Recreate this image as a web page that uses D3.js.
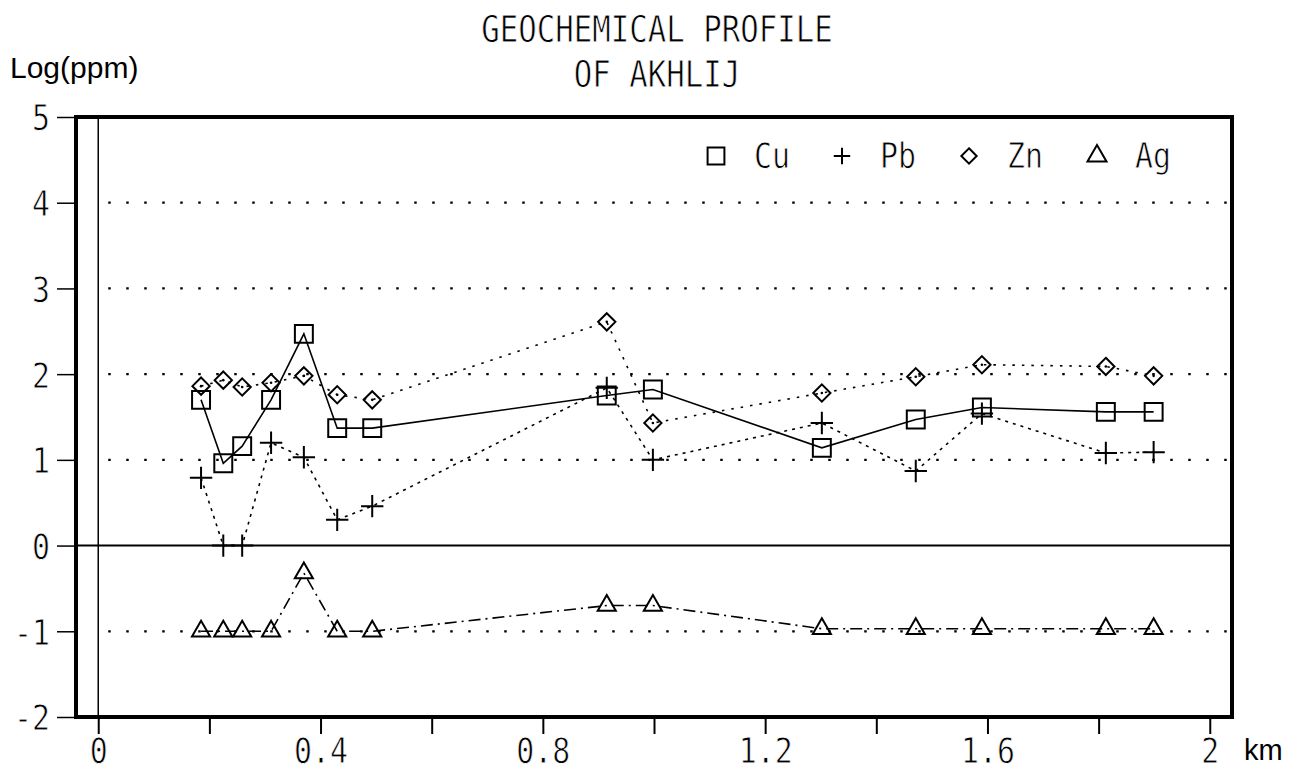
<!DOCTYPE html>
<html>
<head>
<meta charset="utf-8">
<script src="https://cdn.jsdelivr.net/npm/d3@7"></script>
<style>
  html, body { margin: 0; padding: 0; background: #fff; }
  svg { display: block; }
</style>
</head>
<body>
<div id="chart"></div>
<script>
// distance along the profile (km) and log(ppm) of each element
const distance = [0.185, 0.225, 0.259, 0.311, 0.370, 0.430, 0.493, 0.915, 0.998, 1.302, 1.471, 1.590, 1.813, 1.899];
const cu = [1.70, 0.96, 1.16, 1.70, 2.47, 1.37, 1.37, 1.75, 1.82, 1.14, 1.47, 1.61, 1.56, 1.56];
const pb = [0.79, 0.00, 0.00, 1.20, 1.03, 0.30, 0.46, 1.84, 1.00, 1.43, 0.87, 1.54, 1.08, 1.09];
const zn = [1.86, 1.93, 1.85, 1.90, 1.98, 1.76, 1.70, 2.61, 1.43, 1.78, 1.97, 2.11, 2.09, 1.98];
const ag = [-1.00, -1.00, -1.00, -1.00, -0.32, -1.00, -1.00, -0.70, -0.70, -0.97, -0.97, -0.97, -0.97, -0.97];

const seriesNames = ["Cu", "Pb", "Zn", "Ag"];
const xTicks = [0, 0.2, 0.4, 0.6, 0.8, 1.0, 1.2, 1.4, 1.6, 1.8, 2.0];
const xTickLabels = ["0", "", "0.4", "", "0.8", "", "1.2", "", "1.6", "", "2"];
const yTicks = [-2, -1, 0, 1, 2, 3, 4, 5];
const gridValues = [-1, 1, 2, 3, 4];

const width = 1298, height = 775;
const MONO = "'DejaVu Sans Mono', monospace";
const SANS = "'Liberation Sans', Arial, sans-serif";
const SQ = 0.83; // horizontal squeeze of the printer font

const svg = d3.select("#chart").append("svg")
    .attr("width", width)
    .attr("height", height);

const x = d3.scaleLinear().domain([-0.04, 2.04]).range([76, 1232]);
const y = d3.scaleLinear().domain([-2, 5]).range([717, 117]);

// thin the glyph strokes a little, the plotter font is light
function thin(sel) {
    return sel.attr("stroke", "#fff").attr("stroke-width", 0.8);
}

// narrow printer-style text
function mono(parent, px, py, str, size, anchor) {
    return parent.append("text")
        .attr("transform", `translate(${px},${py}) scale(${SQ},1)`)
        .attr("text-anchor", anchor || "start")
        .attr("font-family", MONO)
        .attr("font-size", size)
        .attr("fill", "#000")
        .call(thin)
        .text(str);
}

// ── Titles ───────────────────────────────────────────────
mono(svg, 657, 42, "GEOCHEMICAL PROFILE", 37, "middle");
mono(svg, 657, 87, "OF AKHLIJ", 37, "middle");

svg.append("text")
    .attr("x", 10).attr("y", 78)
    .attr("font-family", SANS)
    .attr("font-size", 30)
    .text("Log(ppm)");

svg.append("text")
    .attr("x", 1244).attr("y", 760)
    .attr("font-family", SANS)
    .attr("font-size", 29)
    .text("km");

// ── Grid, zero line, x=0 line ────────────────────────────
svg.append("g")
    .selectAll("line")
    .data(gridValues)
    .join("line")
    .attr("x1", x(0) + 10).attr("x2", x(2.04))
    .attr("y1", d => y(d)).attr("y2", d => y(d))
    .attr("stroke", "#000")
    .attr("stroke-width", 2.2)
    .attr("stroke-dasharray", "2.5,15.5");

svg.append("line")
    .attr("x1", x(-0.04)).attr("x2", x(2.04))
    .attr("y1", y(0)).attr("y2", y(0))
    .attr("stroke", "#000").attr("stroke-width", 2);

svg.append("line")
    .attr("x1", x(0)).attr("x2", x(0))
    .attr("y1", y(5)).attr("y2", y(-2))
    .attr("stroke", "#000").attr("stroke-width", 1.5);

// ── Axes ─────────────────────────────────────────────────
const xAxis = svg.append("g")
    .attr("transform", `translate(0,${y(-2)})`)
    .call(d3.axisBottom(x)
        .tickValues(xTicks)
        .tickSize(17)
        .tickFormat((d, i) => xTickLabels[i]));

xAxis.select(".domain").remove();
xAxis.selectAll(".tick line").attr("stroke", "#000").attr("stroke-width", 2);
xAxis.selectAll(".tick text")
    .attr("y", 46).attr("dy", 0)
    .attr("transform", `scale(${SQ},1)`)
    .attr("font-family", MONO)
    .attr("font-size", 36)
    .attr("fill", "#000")
    .call(thin);

const yAxis = svg.append("g")
    .attr("transform", `translate(${x(-0.04)},0)`)
    .call(d3.axisLeft(y)
        .tickValues(yTicks)
        .tickSize(19)
        .tickPadding(7)
        .tickFormat(d => String(d)));

yAxis.select(".domain").remove();
yAxis.selectAll(".tick line").attr("stroke", "#000").attr("stroke-width", 1.5);
yAxis.selectAll(".tick text")
    .attr("x", -26 / SQ).attr("dy", "0.36em")
    .attr("transform", `scale(${SQ},1)`)
    .attr("font-family", MONO)
    .attr("font-size", 36)
    .attr("fill", "#000")
    .call(thin);

// ── Frame ────────────────────────────────────────────────
svg.append("rect")
    .attr("x", x(-0.04)).attr("y", y(5))
    .attr("width", x(2.04) - x(-0.04))
    .attr("height", y(-2) - y(5))
    .attr("fill", "none")
    .attr("stroke", "#000")
    .attr("stroke-width", 4);

// ── Series ───────────────────────────────────────────────
const symSquare = d3.symbolSquare2 || d3.symbolSquare;
const symPlus = d3.symbolPlus || d3.symbolCross;
const symDiamond = d3.symbolDiamond2 || d3.symbolDiamond;
const symTriangle = d3.symbolTriangle2 || d3.symbolTriangle;

const series = [
    { name: seriesNames[0], values: cu, dash: null, symbol: symSquare, size: 410 },
    { name: seriesNames[1], values: pb, dash: "3,5", symbol: symPlus, size: 165 },
    { name: seriesNames[2], values: zn, dash: "2.5,7", symbol: symDiamond, size: 190 },
    { name: seriesNames[3], values: ag, dash: "12,5,2,5", symbol: symTriangle, size: 235 }
];

const line = d3.line()
    .x((d, i) => x(distance[i]))
    .y(d => y(d));

series.forEach(s => {
    const g = svg.append("g");
    g.append("path")
        .attr("d", line(s.values))
        .attr("fill", "none")
        .attr("stroke", "#000")
        .attr("stroke-width", 1.6)
        .attr("stroke-dasharray", s.dash);

    g.selectAll("path.mark")
        .data(s.values)
        .join("path")
        .attr("class", "mark")
        .attr("transform", (d, i) => `translate(${x(distance[i])},${y(d)})`)
        .attr("d", d3.symbol(s.symbol, s.size))
        .attr("fill", "none")
        .attr("stroke", "#000")
        .attr("stroke-width", 2);

    if (s.name === "Zn") {
        g.selectAll("circle")
            .data(s.values)
            .join("circle")
            .attr("cx", (d, i) => x(distance[i]))
            .attr("cy", d => y(d))
            .attr("r", 1.3)
            .attr("fill", "#000");
    }
});

// ── Legend ───────────────────────────────────────────────
const legendX = [716, 842, 969, 1097];
const legendSizes = [360, 90, 150, 260];
const legend = svg.append("g");
series.forEach((s, i) => {
    legend.append("path")
        .attr("transform", `translate(${legendX[i]},156)`)
        .attr("d", d3.symbol(s.symbol, legendSizes[i]))
        .attr("fill", "none")
        .attr("stroke", "#000")
        .attr("stroke-width", 2);
    mono(legend, legendX[i] + 38, 168, s.name, 36, "start");
});
</script>
</body>
</html>
